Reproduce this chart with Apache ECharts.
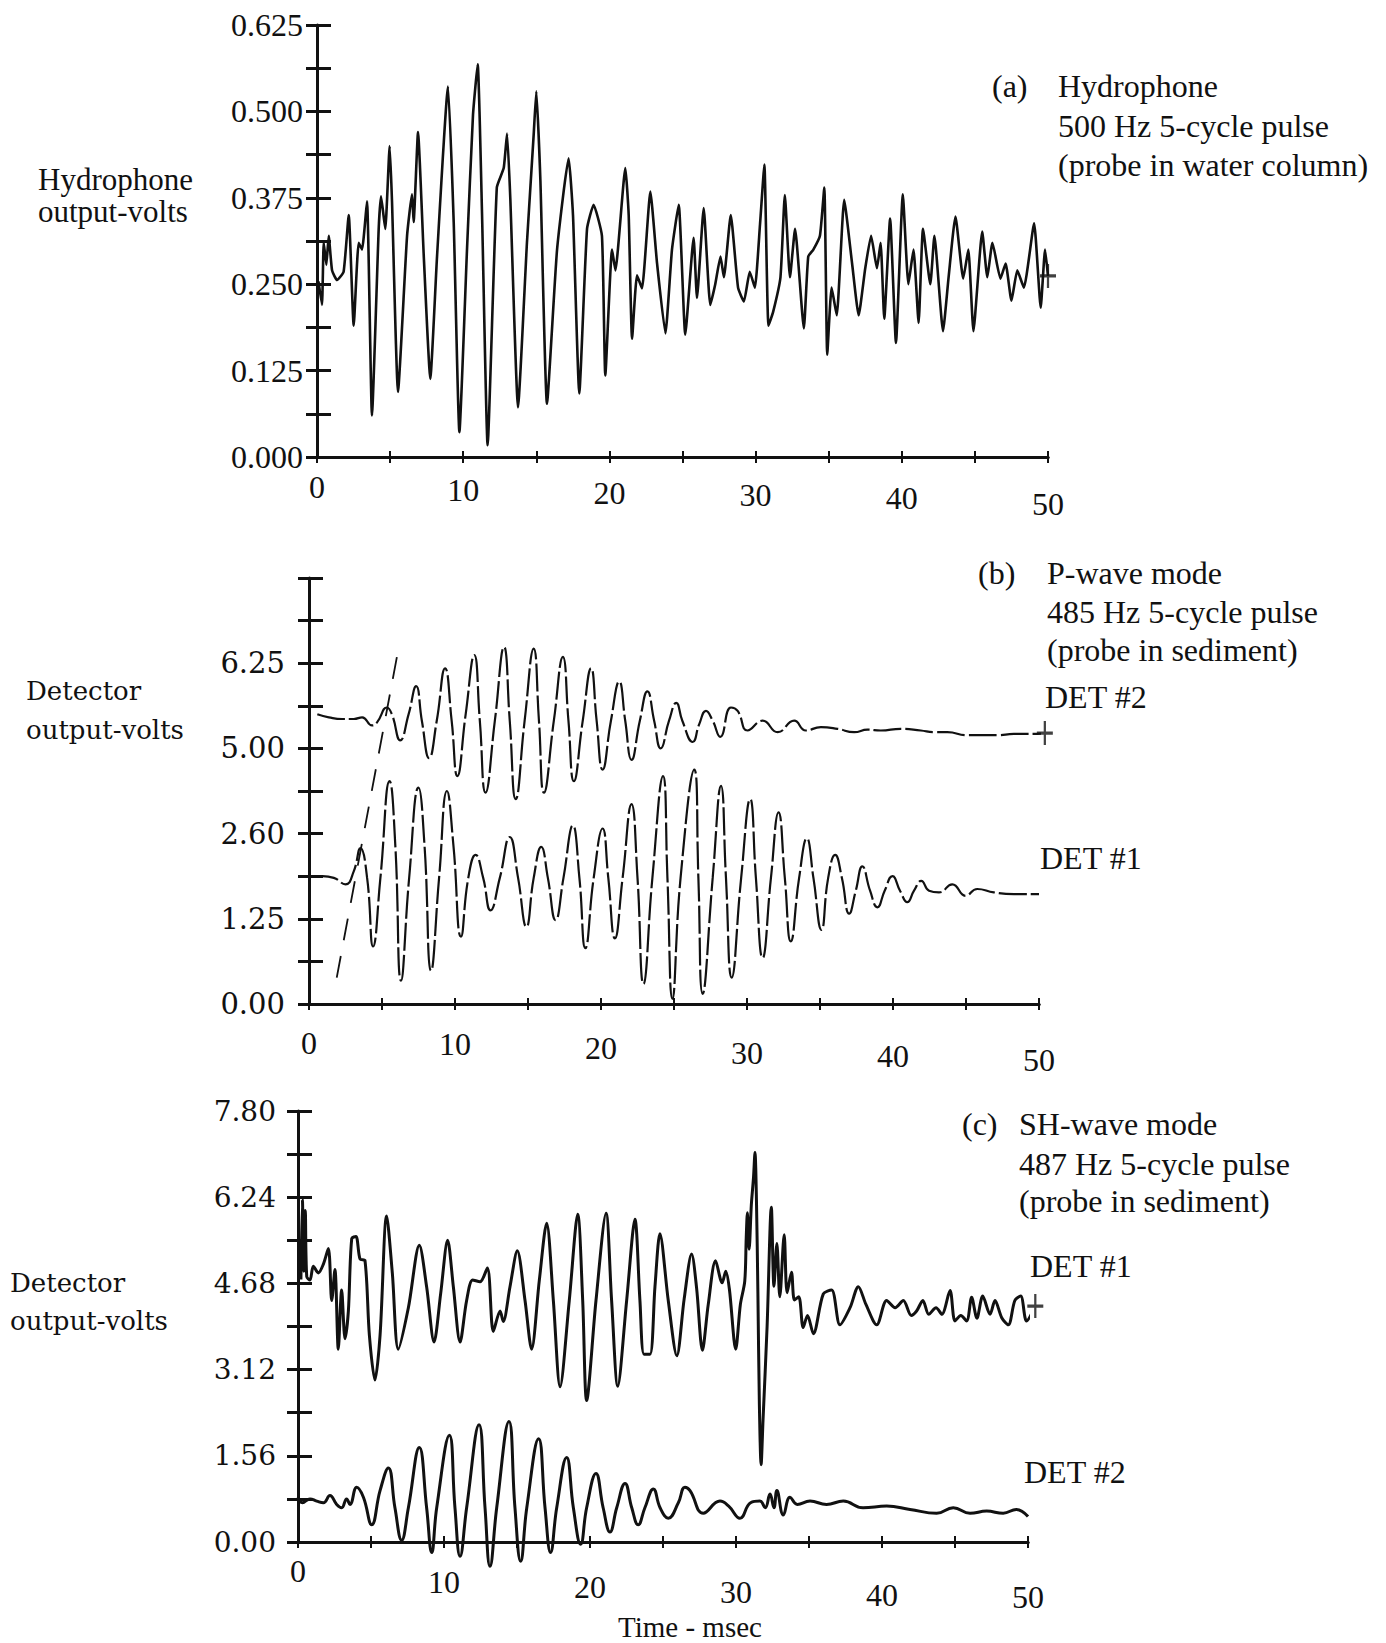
<!DOCTYPE html>
<html>
<head>
<meta charset="utf-8">
<script src="https://cdn.jsdelivr.net/npm/echarts@6/dist/echarts.min.js"></script>
<style>
  html, body { margin: 0; padding: 0; background: #fff; }
  #chart { width: 1386px; height: 1643px; }
</style>
</head>
<body>
<div id="chart"></div>
<script>
// ---- axis tick labels ----
const timeLabels = [0, 10, 20, 30, 40, 50];
const hydroTickLabels = ['0.000', '0.125', '0.250', '0.375', '0.500', '0.625'];
const pwaveTickLabels = ['0.00', '', '1.25', '', '2.60', '', '5.00', '', '6.25', '', ''];
const shTickLabels = ['0.00', '1.56', '3.12', '4.68', '6.24', '7.80'];

// ---- (a) hydrophone trace: [time ms, volts] ----
const hydrophone = [
  [0.1,0.254],[0.34,0.22],[0.46,0.31],[0.64,0.278],[0.8,0.32],[1.03,0.27],[1.37,0.256],[1.82,0.268],
  [2.17,0.35],[2.51,0.19],[2.85,0.31],[3.08,0.30],[3.42,0.37],[3.76,0.06],[4.22,0.33],[4.38,0.377],
  [4.67,0.33],[4.97,0.45],[5.13,0.37],[5.54,0.094],[6.16,0.32],[6.5,0.38],[6.61,0.34],[6.91,0.47],
  [7.3,0.292],[7.75,0.113],[8.21,0.29],[8.96,0.536],[9.35,0.34],[9.74,0.036],[10.26,0.30],[10.67,0.495],
  [10.99,0.568],[11.29,0.35],[11.67,0.017],[12.3,0.39],[12.77,0.418],[13.0,0.468],[13.22,0.375],[13.75,0.072],
  [14.36,0.31],[14.82,0.466],[15.0,0.529],[15.28,0.40],[15.73,0.077],[16.42,0.30],[17.21,0.432],[17.51,0.35],
  [17.94,0.092],[18.47,0.33],[18.92,0.365],[19.49,0.32],[19.72,0.118],[20.18,0.30],[20.41,0.27],[21.09,0.418],
  [21.32,0.35],[21.55,0.171],[21.89,0.263],[22.23,0.244],[22.8,0.384],[23.26,0.28],[23.83,0.179],[24.28,0.30],
  [24.74,0.365],[25.19,0.177],[25.76,0.317],[25.99,0.23],[26.45,0.36],[26.9,0.22],[27.24,0.25],[27.6,0.29],
  [27.83,0.26],[28.3,0.35],[28.8,0.245],[29.2,0.225],[29.6,0.268],[29.95,0.245],[30.3,0.336],[30.6,0.423],
  [30.88,0.19],[31.2,0.21],[31.7,0.26],[32.0,0.379],[32.35,0.26],[32.7,0.33],[33.3,0.186],[33.6,0.29],
  [33.95,0.30],[34.4,0.32],[34.7,0.39],[34.9,0.148],[35.2,0.245],[35.55,0.205],[36.06,0.372],[36.6,0.28],
  [37.05,0.205],[37.5,0.273],[37.9,0.32],[38.3,0.273],[38.55,0.31],[38.8,0.20],[39.2,0.345],[39.6,0.165],
  [40.07,0.38],[40.45,0.25],[40.8,0.30],[41.15,0.194],[41.45,0.33],[41.95,0.25],[42.23,0.32],[42.82,0.182],
  [43.2,0.26],[43.67,0.348],[44.2,0.258],[44.55,0.30],[44.9,0.182],[45.5,0.326],[45.85,0.26],[46.2,0.31],
  [46.75,0.258],[47.1,0.28],[47.5,0.226],[47.9,0.27],[48.35,0.245],[49.05,0.338],[49.5,0.216],[49.8,0.30],
  [50.0,0.262]
];

// ---- (b) P-wave mode traces: [time ms, axis divisions] ----
const pDet2 = [
  [0.57,6.80],[1.36,6.73],[2.27,6.69],[3.07,6.69],[3.64,6.73],[4.32,6.54],[4.66,6.61],[5.34,6.96],
  [5.68,6.80],[6.25,6.19],[6.82,6.80],[7.34,7.46],[7.73,6.65],[8.23,5.77],[8.75,6.65],[9.32,7.88],
  [9.77,6.65],[10.16,5.35],[10.73,6.80],[11.32,8.19],[11.70,6.65],[12.09,4.96],[12.73,6.65],[13.36,8.38],
  [13.75,6.65],[14.16,4.81],[14.77,6.65],[15.39,8.34],[15.75,6.65],[16.09,4.96],[16.77,6.65],[17.39,8.15],
  [17.77,6.65],[18.14,5.23],[18.75,6.65],[19.32,7.88],[19.70,6.65],[20.11,5.50],[20.68,6.65],[21.25,7.57],
  [21.66,6.65],[22.09,5.73],[22.66,6.65],[23.18,7.34],[23.64,6.65],[24.09,6.00],[24.66,6.65],[25.16,7.07],
  [25.57,6.65],[26.28,6.15],[26.73,6.57],[27.19,6.88],[27.65,6.65],[28.17,6.27],[28.90,6.96],[29.36,6.88],
  [30.04,6.42],[31.07,6.65],[32.10,6.38],[33.23,6.65],[34.03,6.42],[35.06,6.50],[36.20,6.46],[37.34,6.38],
  [38.25,6.44],[39.16,6.42],[40.53,6.46],[41.90,6.42],[42.81,6.38],[43.72,6.38],[45.09,6.31],[46.00,6.31],
  [47.14,6.31],[48.28,6.34],[49.65,6.34],[50.4,6.36]
];
const pDet1 = [
  [0.11,3.00],[0.91,3.00],[1.70,2.96],[2.50,2.81],[3.07,3.12],[3.52,3.66],[3.98,2.96],[4.39,1.35],
  [4.89,2.96],[5.52,5.23],[5.91,3.73],[6.30,0.55],[6.86,2.96],[7.50,5.08],[7.91,3.73],[8.36,0.78],
  [8.91,2.96],[9.45,5.00],[9.89,3.73],[10.41,1.58],[10.91,2.96],[11.41,3.50],[11.93,2.96],[12.43,2.20],
  [13.07,2.96],[13.75,3.92],[14.32,2.96],[14.89,1.81],[15.39,2.96],[15.91,3.69],[16.36,2.96],[16.89,1.97],
  [17.43,2.96],[18.07,4.19],[18.52,2.96],[18.93,1.31],[19.50,2.96],[20.11,4.12],[20.50,2.96],[20.95,1.54],
  [21.48,2.96],[22.09,4.69],[22.50,2.96],[22.91,0.47],[23.52,2.96],[24.25,5.35],[24.55,2.96],[24.89,0.12],
  [25.45,2.96],[26.39,5.50],[26.67,2.96],[26.96,0.24],[27.65,2.96],[28.22,5.12],[28.56,2.96],[28.95,0.62],
  [29.60,2.96],[30.22,4.81],[30.61,2.96],[31.07,1.08],[31.64,2.96],[32.16,4.50],[32.59,2.96],[33.00,1.47],
  [33.57,2.96],[34.10,3.89],[34.55,2.96],[35.10,1.74],[35.56,2.96],[36.04,3.50],[36.50,2.96],[37.00,2.12],
  [37.45,2.66],[37.90,3.23],[38.43,2.66],[38.93,2.27],[39.43,2.66],[39.96,3.00],[40.48,2.66],[40.98,2.39],
  [41.44,2.66],[41.94,2.89],[42.47,2.66],[43.15,2.62],[44.06,2.81],[44.97,2.54],[45.77,2.70],[46.91,2.62],
  [48.28,2.58],[50.0,2.58]
];
// faint onset stroke crossing both P-wave traces
const pOnset = [[1.9,0.62],[6.05,8.2]];

// ---- (c) SH-wave mode traces: [time ms, volts] ----
const shDet1 = [
  [0.2,4.75],[0.3,6.2],[0.4,4.9],[0.5,6.0],[0.6,4.8],[0.82,4.74],[1.05,4.99],[1.39,4.87],[1.74,5.03],
  [2.08,5.31],[2.31,4.37],[2.53,4.93],[2.76,3.49],[2.99,4.56],[3.22,3.68],[3.45,4.18],[3.68,5.49],[3.97,5.53],
  [4.25,5.12],[4.59,5.09],[4.89,3.74],[5.27,2.93],[5.62,3.74],[6.07,5.90],[6.46,4.87],[6.87,3.49],[7.56,4.24],
  [8.31,5.37],[8.81,4.62],[9.32,3.62],[9.77,4.49],[10.25,5.46],[10.64,4.62],[11.10,3.62],[11.55,4.37],
  [11.96,4.74],[12.47,4.71],[12.97,4.96],[13.38,3.81],[13.84,4.18],[14.06,3.99],[14.52,4.62],[15.02,5.27],
  [15.55,4.37],[16.00,3.49],[16.53,4.74],[17.03,5.77],[17.49,4.37],[17.95,2.81],[18.58,4.37],[19.16,5.93],
  [19.50,4.37],[19.77,2.56],[20.41,4.37],[21.10,5.95],[21.48,4.37],[21.90,2.82],[22.51,4.37],[23.08,5.84],
  [23.42,4.37],[23.70,3.40],[24.11,3.40],[24.45,4.62],[24.79,5.58],[25.36,4.37],[25.95,3.37],[26.45,4.40],
  [26.96,5.21],[27.30,4.60],[27.70,3.47],[28.10,4.30],[28.60,5.09],[29.05,4.69],[29.30,4.90],[29.55,4.57],
  [29.98,3.49],[30.30,4.30],[30.60,4.72],[30.70,5.50],[30.78,5.96],[30.90,5.30],[31.05,6.10],[31.20,6.60],
  [31.30,7.05],[31.40,6.20],[31.50,4.50],[31.60,2.50],[31.72,1.40],[31.85,2.20],[32.13,3.90],[32.42,6.06],
  [32.60,4.63],[32.80,5.40],[33.00,4.44],[33.30,5.56],[33.50,4.51],[33.80,4.88],[34.00,4.38],[34.30,4.44],
  [34.60,3.88],[34.90,4.10],[35.30,3.77],[35.98,4.49],[36.55,4.56],[37.12,3.93],[37.81,4.24],[38.38,4.62],
  [38.90,4.30],[39.64,3.93],[40.32,4.37],[40.90,4.24],[41.46,4.37],[42.00,4.10],[42.37,4.18],[42.80,4.37],
  [43.20,4.12],[43.70,4.24],[44.10,4.12],[44.66,4.55],[45.00,4.00],[45.40,4.10],[45.80,4.00],[46.14,4.43],
  [46.50,4.05],[46.90,4.45],[47.40,4.12],[47.74,4.37],[48.20,4.06],[48.65,3.93],[49.10,4.37],[49.50,4.45],
  [49.90,4.00],[50.50,4.27]
];
const shDet2 = [
  [0.0,0.81],[0.3,0.71],[0.82,0.78],[1.28,0.74],[1.74,0.71],[2.19,0.84],[2.65,0.68],[2.99,0.62],[3.33,0.78],
  [3.56,0.68],[4.02,0.99],[4.48,0.81],[5.05,0.31],[5.62,0.93],[6.19,1.34],[6.64,0.62],[7.10,0.03],[7.56,0.62],
  [8.31,1.71],[8.81,0.62],[9.16,-0.19],[9.50,0.62],[10.37,1.93],[10.75,0.62],[11.10,-0.26],[11.55,0.62],
  [12.40,2.12],[12.81,0.62],[13.15,-0.44],[13.61,0.62],[14.45,2.18],[14.86,0.62],[15.25,-0.35],[15.67,0.62],
  [16.48,1.87],[16.92,0.62],[17.30,-0.19],[17.72,0.62],[18.40,1.53],[18.86,0.62],[19.36,-0.04],[19.77,0.62],
  [20.41,1.24],[20.90,0.62],[21.37,0.18],[21.83,0.62],[22.40,1.06],[22.86,0.62],[23.30,0.31],[23.76,0.62],
  [24.34,0.96],[24.80,0.62],[25.36,0.43],[26.05,0.71],[26.50,0.99],[26.85,0.93],[27.76,0.52],[28.90,0.74],
  [29.50,0.65],[30.27,0.43],[31.00,0.71],[31.64,0.74],[32.00,0.62],[32.33,0.87],[32.60,0.62],[32.80,0.93],
  [33.24,0.49],[33.70,0.81],[34.20,0.68],[35.07,0.74],[36.20,0.68],[37.35,0.74],[38.70,0.62],[40.32,0.65],
  [41.92,0.59],[43.74,0.52],[44.88,0.62],[46.03,0.52],[47.17,0.56],[48.30,0.52],[49.20,0.59],[50.00,0.46]
];

// ---- styling helpers ----
const INK = '#111';
const TIMES = '"Liberation Serif", "Times New Roman", serif';
const WIDE_SERIF = '"DejaVu Serif", serif';
const PLUS = 'path://M-1.4,-10H1.4V-1.4H10V1.4H1.4V10H-1.4V1.4H-10V-1.4H-1.4Z';
const TICK_IN = 14;   // how far the y ticks reach into the plot

// the printed time labels drift lower towards the right of each panel
function timeAxes(gridIndex, drops) {
  const base = {
    type: 'value', gridIndex, min: 0, max: 50, interval: 5, position: 'bottom',
    splitLine: { show: false }
  };
  const rich = {};
  drops.forEach((d, i) => {
    rich['o' + i] = { padding: [d, 0, 0, 0], fontFamily: TIMES, fontSize: 32, color: INK };
  });
  return [
    Object.assign({}, base, {
      axisLine: { show: true, onZero: false, lineStyle: { color: INK, width: 3 } },
      axisTick: { show: true, length: 6, lineStyle: { color: INK, width: 2 } },
      axisLabel: {
        show: true, margin: 10, color: INK, fontFamily: TIMES, fontSize: 32, rich,
        formatter: v => {
          const i = timeLabels.indexOf(v);
          return i >= 0 ? '{o' + i + '|' + v + '}' : '';
        }
      }
    }),
    // upper half of the crossing ticks
    Object.assign({}, base, {
      axisLine: { show: true, onZero: false, lineStyle: { color: INK, width: 3 } },
      axisTick: { show: true, inside: true, length: 6, lineStyle: { color: INK, width: 2 } },
      axisLabel: { show: false }
    })
  ];
}

// y axes: the visible spine, plus a tick/label axis shifted into the plot so each
// tick crosses the spine
function valueAxes(gridIndex, min, max, interval, labelFn, font, margin) {
  const base = {
    type: 'value', gridIndex, min, max, interval, position: 'left',
    splitLine: { show: false }
  };
  return [
    Object.assign({}, base, {
      offset: -TICK_IN,
      axisLine: { show: false, onZero: false },
      axisTick: { show: true, length: 11 + TICK_IN, lineStyle: { color: INK, width: 3 } },
      axisLabel: {
        show: true, margin: margin + TICK_IN, color: INK, fontFamily: font.family, fontSize: font.size,
        formatter: labelFn
      }
    }),
    Object.assign({}, base, {
      axisLine: { show: true, onZero: false, lineStyle: { color: INK, width: 3 } },
      axisTick: { show: false },
      axisLabel: { show: false }
    })
  ];
}

function text(str, x, y, font, align) {
  return {
    type: 'text', x, y, silent: true,
    style: { text: str, font, fill: INK, align: align || 'left', verticalAlign: 'middle' }
  };
}

const xAxes = [].concat(
  timeAxes(0, [4, 7, 10, 12, 15, 21]),
  timeAxes(1, [13, 14, 18, 23, 26, 30]),
  timeAxes(2, [3, 14, 19, 24, 27, 29])
);
const yAxes = [].concat(
  valueAxes(0, 0, 0.625, 0.0625,
    v => { const k = Math.round(v / 0.0625); return k % 2 === 0 ? hydroTickLabels[k / 2] : ''; },
    { family: TIMES, size: 32 }, 14),
  valueAxes(1, 0, 10, 1,
    v => pwaveTickLabels[Math.round(v)] || '',
    { family: WIDE_SERIF, size: 29 }, 24),
  valueAxes(2, 0, 7.8, 0.78,
    v => { const k = Math.round(v / 0.78); return k % 2 === 0 ? shTickLabels[k / 2] : ''; },
    { family: WIDE_SERIF, size: 28 }, 22)
);

function trace(data, axisPair, opts) {
  return Object.assign({
    type: 'line', data, xAxisIndex: axisPair, yAxisIndex: axisPair,
    showSymbol: false, symbol: 'none', clip: false, animation: false,
    lineStyle: { color: INK, width: 2.6 }
  }, opts || {});
}

function endMark(data, axisPair, size) {
  return {
    type: 'scatter', xAxisIndex: axisPair, yAxisIndex: axisPair, data: [data[data.length - 1]],
    symbol: PLUS, symbolSize: size, itemStyle: { color: INK },
    clip: false, animation: false, silent: true, z: 5
  };
}

const TEXT_FONT = '32px ' + TIMES;
const SIDE_FONT = '26px ' + WIDE_SERIF;

const option = {
  backgroundColor: '#fff',
  animation: false,
  grid: [
    { left: 317, top: 25, width: 731, height: 432 },
    { left: 309, top: 578, width: 730, height: 426 },
    { left: 298, top: 1111, width: 730, height: 431 }
  ],
  xAxis: xAxes,
  yAxis: yAxes,
  series: [
    trace(hydrophone, 0, { smooth: 0.15, lineStyle: { color: INK, width: 2.6 } }),
    trace(pDet2, 2, { smooth: 0.5, lineStyle: { color: INK, width: 2.2, type: [28, 4] } }),
    trace(pDet1, 2, { smooth: 0.5, lineStyle: { color: INK, width: 2.2, type: [28, 4] } }),
    trace(pOnset, 2, { lineStyle: { color: INK, width: 1.8, type: [22, 16] } }),
    trace(shDet1, 4, { smooth: 0.3, lineStyle: { color: INK, width: 3 } }),
    trace(shDet2, 4, { smooth: 0.45, lineStyle: { color: INK, width: 3 } }),
    // end-of-record cross marks
    endMark(hydrophone, 0, [16, 24]),
    endMark(pDet2, 2, [16, 24]),
    endMark(shDet1, 4, [16, 24])
  ],
  graphic: [
    // (a)
    text('Hydrophone', 38, 179, '31px ' + TIMES),
    text('output-volts', 38, 211, '31px ' + TIMES),
    text('(a)', 992, 86, TEXT_FONT),
    text('Hydrophone', 1058, 86, TEXT_FONT),
    text('500 Hz 5-cycle pulse', 1058, 126, TEXT_FONT),
    text('(probe in water column)', 1058, 165, TEXT_FONT),
    // (b)
    text('Detector', 26, 691, SIDE_FONT),
    text('output-volts', 26, 730, SIDE_FONT),
    text('(b)', 978, 573, TEXT_FONT),
    text('P-wave mode', 1047, 573, TEXT_FONT),
    text('485 Hz 5-cycle pulse', 1047, 612, TEXT_FONT),
    text('(probe in sediment)', 1047, 650, TEXT_FONT),
    text('DET #2', 1045, 697, TEXT_FONT),
    text('DET #1', 1040, 858, TEXT_FONT),
    // (c)
    text('Detector', 10, 1283, SIDE_FONT),
    text('output-volts', 10, 1321, SIDE_FONT),
    text('(c)', 962, 1124, TEXT_FONT),
    text('SH-wave mode', 1019, 1124, TEXT_FONT),
    text('487 Hz 5-cycle pulse', 1019, 1164, TEXT_FONT),
    text('(probe in sediment)', 1019, 1201, TEXT_FONT),
    text('DET #1', 1030, 1266, TEXT_FONT),
    text('DET #2', 1024, 1472, TEXT_FONT),
    text('Time - msec', 690, 1627, '29px ' + TIMES, 'center')
  ]
};

const chart = echarts.init(document.getElementById('chart'), null, { renderer: 'svg' });
chart.setOption(option);
</script>
</body>
</html>
